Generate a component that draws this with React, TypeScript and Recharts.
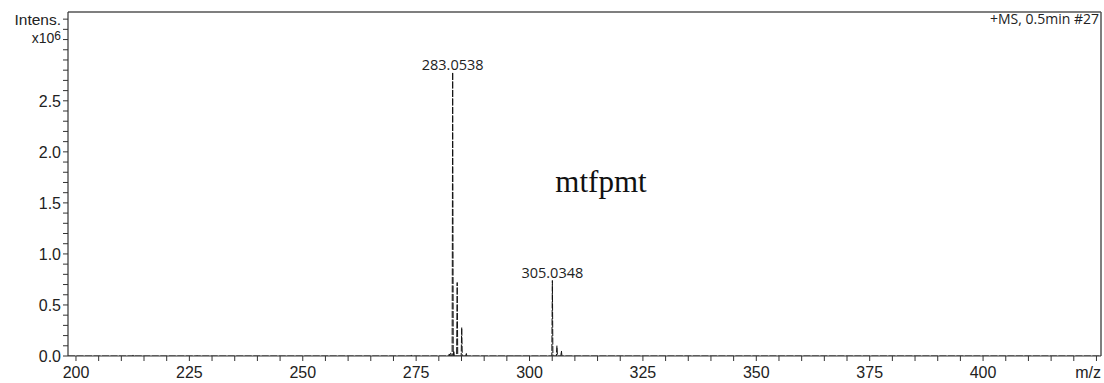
import React from 'react';
import { LineChart, Line, XAxis, YAxis, ReferenceLine } from 'recharts';

// m/z of every stick in the spectrum, with its intensity (x10^6)
const peakMz = [212.6, 226.7, 274.0, 282.3, 282.6, 283.0538, 283.3, 284.05, 285.05, 286.05, 296.5, 305.0348, 306.04, 307.03];
const peakIntensity = [0.01, 0.006, 0.01, 0.02, 0.03, 2.78, 0.05, 0.72, 0.28, 0.03, 0.006, 0.74, 0.1, 0.05];
const peakLabels = ['', '', '', '', '', '283.0538', '', '', '', '', '', '305.0348', '', ''];

const majorMz = [200, 225, 250, 275, 300, 325, 350, 375, 400];
const majorIntensity = [0, 0.5, 1, 1.5, 2, 2.5];

const X_MIN = 198.24;
const X_MAX = 426;
const Y_MAX = 3.37;

const FONT = "'Liberation Sans', Arial, sans-serif";
const INK = '#222';

type Row = { mz: number; y: number; tag?: string };

const rows: Row[] = [{ mz: X_MIN, y: 0 }];
peakMz.forEach((m, i) => {
  rows.push({ mz: m - 0.12, y: 0 });
  rows.push({ mz: m, y: peakIntensity[i], tag: peakLabels[i] });
  rows.push({ mz: m + 0.12, y: 0 });
});
rows.push({ mz: X_MAX, y: 0 });

const xTicks = Array.from({ length: 46 }, (_, i) => 200 + i * 5);
const yTicks = Array.from({ length: 34 }, (_, i) => i / 10);

const XTick = (props: any) => {
  const { x, y, payload } = props;
  const v = payload.value;
  let text: React.ReactNode = null;
  if (v === 425) {
    text = <text x={1101} y={y + 22} textAnchor="end" fontSize={16} fontFamily={FONT} fill={INK}>m/z</text>;
  } else if (majorMz.includes(v)) {
    text = <text x={x} y={y + 22} textAnchor="middle" fontSize={16} fontFamily={FONT} fill={INK}>{v}</text>;
  }
  return (
    <g>
      <line x1={x} x2={x} y1={y} y2={y + 5} stroke="#333" strokeWidth={1} />
      {text}
    </g>
  );
};

const YTick = (props: any) => {
  const { x, y, payload } = props;
  const v = Math.round(payload.value * 10) / 10;
  const isMajor = majorIntensity.includes(v);
  return (
    <g>
      <line x1={x - 5} x2={x} y1={y} y2={y} stroke="#333" strokeWidth={1} />
      {isMajor && (
        <text x={x - 7} y={y} dy="0.36em" textAnchor="end" fontSize={16} fontFamily={FONT} fill={INK}>
          {v.toFixed(1)}
        </text>
      )}
    </g>
  );
};

const PeakLabel = (props: any) => {
  const { x, y, index } = props;
  const tag = rows[index]?.tag;
  if (!tag) return <g />;
  return (
    <text x={x} y={y - 2.5} textAnchor="middle" fontSize={14.5} fontFamily="'Open Sans', sans-serif" fill={INK}>
      {tag}
    </text>
  );
};

const App: React.FC = () => {
  return (
    <div style={{ position: 'absolute', left: 0, top: 0, width: 1104, height: 383, background: '#fff' }}>
      <LineChart width={1104} height={383} data={rows} margin={{ top: 12, right: 3, bottom: 0, left: 0 }}>
        <XAxis
          dataKey="mz"
          type="number"
          domain={[X_MIN, X_MAX]}
          ticks={xTicks}
          interval={0}
          height={27}
          tickSize={0}
          tickMargin={0}
          tickLine={false}
          tick={<XTick />}
          axisLine={{ stroke: '#333', strokeWidth: 1.2 }}
          allowDataOverflow
        />
        <YAxis
          type="number"
          domain={[0, Y_MAX]}
          ticks={yTicks}
          interval={0}
          width={68}
          tickSize={0}
          tickMargin={0}
          tickLine={false}
          tick={<YTick />}
          axisLine={{ stroke: '#333', strokeWidth: 1.2 }}
          allowDataOverflow
        />
        <ReferenceLine y={Y_MAX} stroke="#555" strokeWidth={1.5} />
        <ReferenceLine x={X_MAX} stroke="#555" strokeWidth={1.5} />
        <Line
          type="linear"
          dataKey="y"
          stroke="#111"
          strokeWidth={1}
          strokeDasharray="7 1.5"
          dot={false}
          activeDot={false}
          label={<PeakLabel />}
          isAnimationActive={false}
        />
      </LineChart>
      <svg width={1104} height={383} style={{ position: 'absolute', left: 0, top: 0, pointerEvents: 'none' }}>
        <text x={61} y={25} textAnchor="end" fontSize={15.5} fontFamily={FONT} fill={INK}>Intens.</text>
        <text x={61} y={43} textAnchor="end" fontSize={14} fontFamily={FONT} fill={INK}>
          x10<tspan fontSize={12} dy={-3}>6</tspan>
        </text>
        <text x={1099} y={24} textAnchor="end" fontSize={14} fontFamily="'Open Sans', sans-serif" fill={INK}>
          +MS, 0.5min #27
        </text>
        <text x={601} y={192} textAnchor="middle" fontSize={31} fontFamily="'Liberation Serif', 'Times New Roman', serif" fill="#111">
          mtfpmt
        </text>
      </svg>
    </div>
  );
};

export default App;
